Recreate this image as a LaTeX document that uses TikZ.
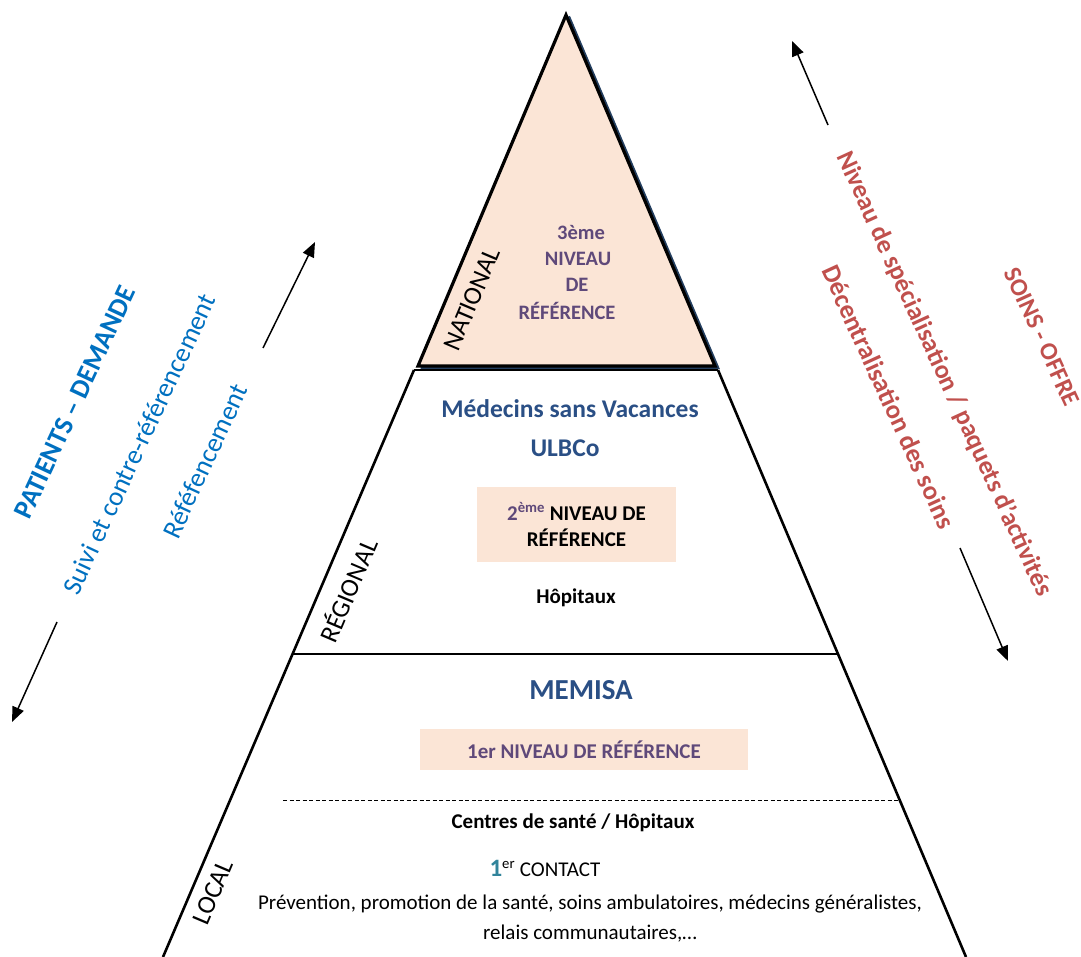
\documentclass[tikz,border=0pt]{standalone}
\usepackage{fontspec}
\setmainfont{Carlito}
\usetikzlibrary{arrows.meta}
\definecolor{peach}{HTML}{FBE5D6}
\definecolor{lvlpurple}{HTML}{5F497A}
\definecolor{orgblue}{HTML}{2A4F85}
\definecolor{patblue}{HTML}{0070C0}
\definecolor{soinred}{HTML}{C0504D}
\definecolor{teal1}{HTML}{31849B}
\definecolor{shadownavy}{HTML}{243F60}
\tikzset{
  edge/.style={line width=2.6pt},
  lvlbox/.style={fill=peach, inner sep=0pt},
  txt/.style={inner sep=0pt, align=center},
  bold21/.style={txt, font=\fontsize{21}{26}\selectfont\bfseries},
  reg21/.style={txt, font=\fontsize{21}{30}\selectfont},
  orgname/.style={txt, text=orgblue, font=\fontsize{25.5}{28}\selectfont\bfseries},
  lvl3/.style={txt, text=lvlpurple, font=\fontsize{20.5}{26}\selectfont\bfseries},
  zone/.style={txt, font=\fontsize{26}{30}\selectfont, rotate=67},
  flow/.style={line width=1.5pt, -{Triangle[length=15pt,width=12pt]}},
  leftlbl/.style={txt, text=patblue, rotate=65},
  rightlbl/.style={txt, text=soinred, rotate=-65.4}
}
\begin{document}
\begin{tikzpicture}[x=1pt,y=-1pt]
\useasboundingbox (0,0) rectangle (1081,957);
% top triangle
\coordinate (apex) at (566,15);
\coordinate (tl) at (418,366);
\coordinate (tr) at (715,366);
\draw[shadownavy, line width=3.2pt, line join=miter] ([shift={(2.5,1.5)}]apex) -- ([shift={(2.5,1.5)}]tr) -- ([shift={(2.5,1.5)}]tl);
\fill[peach] (apex) -- (tl) -- (tr) -- cycle;
\draw[line width=3.2pt, line join=miter] (apex) -- (tl) -- (tr) -- cycle;
% pyramid body
\coordinate (l0) at (414,370);
\coordinate (l1) at (163,957);
\coordinate (r0) at (718,370);
\coordinate (r1) at (966,957);
\coordinate (lm) at (292.6,654);
\coordinate (rm) at (838,654);
\draw[edge] (l0) -- (l1);
\draw[edge] (r0) -- (r1);
\draw[line width=1.6pt] (l0) -- (r0);
\draw[line width=2.8pt] (lm) -- (rm);
\coordinate (d0) at (283,800);
\coordinate (d1) at (900,800);
\draw[line width=1pt, dash pattern=on 4pt off 2.5pt] (d0) -- (d1);
% level boxes
\node[lvlbox, minimum width=199pt, minimum height=75pt] (box2) at (576.5,524.5) {};
\node[lvlbox, minimum width=328pt, minimum height=41pt] (box1) at (584,749.5) {};
% texts
\node[lvl3] (n3a) at (581,233) {3ème};
\node[lvl3] (n3b) at (578,259) {NIVEAU};
\node[lvl3] (n3c) at (577,285) {DE};
\node[lvl3] (n3d) at (567,311) {RÉFÉRENCE};
\node[zone] (national) at (472,299) {NATIONAL};
\node[orgname] (msv) at (570,409) {Médecins sans Vacances};
\node[orgname] (ulb) at (565,448) {ULBCo};
\node[bold21] (n2) at (box2.center) {\textcolor{lvlpurple}{2\textsuperscript{ème}} NIVEAU DE\\RÉFÉRENCE};
\node[bold21] (hop) at (576,598) {Hôpitaux};
\node[zone] (regional) at (347,590) {RÉGIONAL};
\node[orgname, font=\fontsize{29}{32}\selectfont\bfseries] (memisa) at (581,690) {MEMISA};
\node[bold21, text=lvlpurple] (n1) at (box1.center) {1er NIVEAU DE RÉFÉRENCE};
\node[bold21] (centres) at (573,823) {Centres de santé / Hôpitaux};
\node[reg21] (contact) at (545,868) {\textcolor{teal1}{\bfseries\fontsize{25}{30}\selectfont 1}\textsuperscript{er} CONTACT};
\node[reg21] (prev) at (590,919) {Prévention, promotion de la santé, soins ambulatoires, médecins généralistes,\\relais communautaires,…};
\node[zone] (local) at (213,892) {LOCAL};
% left side
\node[leftlbl, font=\fontsize{27.5}{30}\selectfont\bfseries] (patients) at (75,402) {PATIENTS – DEMANDE};
\node[leftlbl, font=\fontsize{27}{30}\selectfont] (suivi) at (139,444) {Suivi et contre-référencement};
\node[leftlbl, font=\fontsize{27}{30}\selectfont] (refe) at (205,461) {Réféfencement};
\coordinate (la0) at (263,348);
\coordinate (la1) at (315,242);
\coordinate (lb0) at (57,622);
\coordinate (lb1) at (12,722);
\draw[flow] (la0) -- (la1);
\draw[flow] (lb0) -- (lb1);
% right side
\node[rightlbl, font=\fontsize{26}{30}\selectfont\bfseries] (niveau) at (944,374) {Niveau de spécialisation / paquets d’activités};
\node[rightlbl, font=\fontsize{26.5}{30}\selectfont\bfseries] (decentr) at (889,397) {Décentralisation des soins};
\node[rightlbl, font=\fontsize{25}{30}\selectfont\bfseries] (soins) at (1042,337) {SOINS - OFFRE};
\coordinate (ra0) at (828,125);
\coordinate (ra1) at (792,41);
\coordinate (rb0) at (960,548);
\coordinate (rb1) at (1008,661);
\draw[flow] (ra0) -- (ra1);
\draw[flow] (rb0) -- (rb1);
\end{tikzpicture}
\end{document}
